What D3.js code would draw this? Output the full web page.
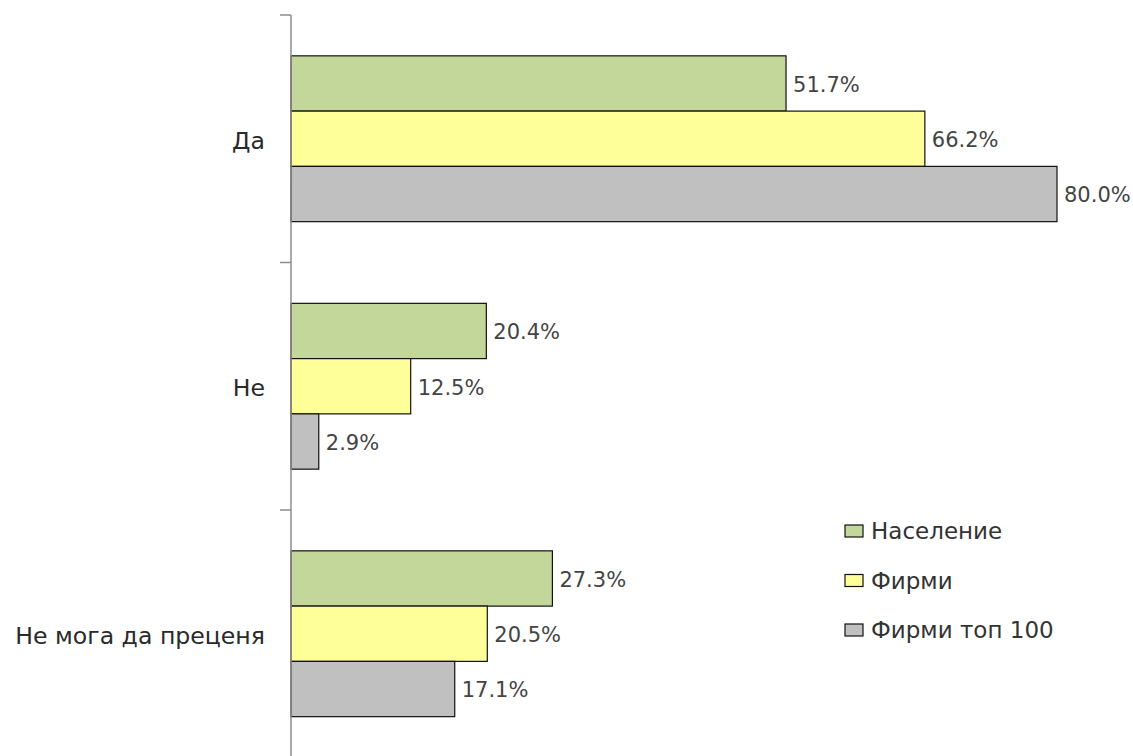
<!DOCTYPE html>
<html><head><meta charset="utf-8">
<script src="https://cdn.jsdelivr.net/npm/d3@7"></script>
<style>body{margin:0;background:#fff}svg{display:block}</style>
</head><body><svg id="c" width="1133" height="756"></svg>
<script>
const categories = ["Да", "Не", "Не мога да преценя"];
const seriesNames = ["Население", "Фирми", "Фирми топ 100"];
const naselenie = [51.7, 20.4, 27.3];
const firmi = [66.2, 12.5, 20.5];
const firmiTop100 = [80.0, 2.9, 17.1];
const seriesValues = [naselenie, firmi, firmiTop100];
const colors = ["#c4d79b", "#ffff99", "#c0c0c0"];

const svg = d3.select("#c");
const x0 = 291, plotTop = 15, bandH = 247.5;
const x = d3.scaleLinear().domain([0, 80]).range([x0, 1057]);
const y = d3.scaleBand().domain(categories).range([plotTop, plotTop + bandH * 3]).paddingInner(0.33).paddingOuter(0.165);
const ys = d3.scaleBand().domain(d3.range(3)).range([0, y.bandwidth()]);
const font = "'DejaVu Sans', sans-serif";

categories.forEach((c, ci) => {
  seriesValues.forEach((vals, si) => {
    const yy = y(c) + ys(si);
    svg.append("rect").attr("x", x(0)).attr("y", yy)
      .attr("width", x(vals[ci]) - x(0)).attr("height", ys.bandwidth())
      .attr("fill", colors[si]).attr("stroke", "#111").attr("stroke-width", 1.2);
    svg.append("text").attr("x", x(vals[ci]) + 7).attr("y", yy + ys.bandwidth() / 2)
      .attr("dy", "0.4em").attr("font-family", font).attr("font-size", 21)
      .attr("fill", "#444").text(vals[ci].toFixed(1) + "%");
  });
});

// axis line and ticks
svg.append("line").attr("x1", x0).attr("x2", x0).attr("y1", plotTop).attr("y2", 760)
  .attr("stroke", "#8c8c8c").attr("stroke-width", 1.5);
[0, 1, 2, 3].forEach(i => {
  svg.append("line").attr("x1", x0 - 11).attr("x2", x0).attr("y1", plotTop + bandH * i).attr("y2", plotTop + bandH * i)
    .attr("stroke", "#8c8c8c").attr("stroke-width", 1.5);
});
categories.forEach(c => {
  svg.append("text").attr("x", 265).attr("y", y(c) + y.bandwidth() / 2).attr("dy", "0.42em")
    .attr("text-anchor", "end").attr("font-family", font).attr("font-size", 23.6)
    .attr("fill", "#2a2a2a").text(c);
});

// legend
const leg = svg.append("g");
seriesNames.forEach((n, i) => {
  const ly = 531 + i * 49.5;
  leg.append("rect").attr("x", 845).attr("y", ly - 6).attr("width", 18).attr("height", 12)
    .attr("fill", colors[i]).attr("stroke", "#111").attr("stroke-width", 1.2);
  leg.append("text").attr("x", 871).attr("y", ly).attr("dy", "0.36em")
    .attr("font-family", font).attr("font-size", 23).attr("fill", "#333").text(n);
});
</script></body></html>
